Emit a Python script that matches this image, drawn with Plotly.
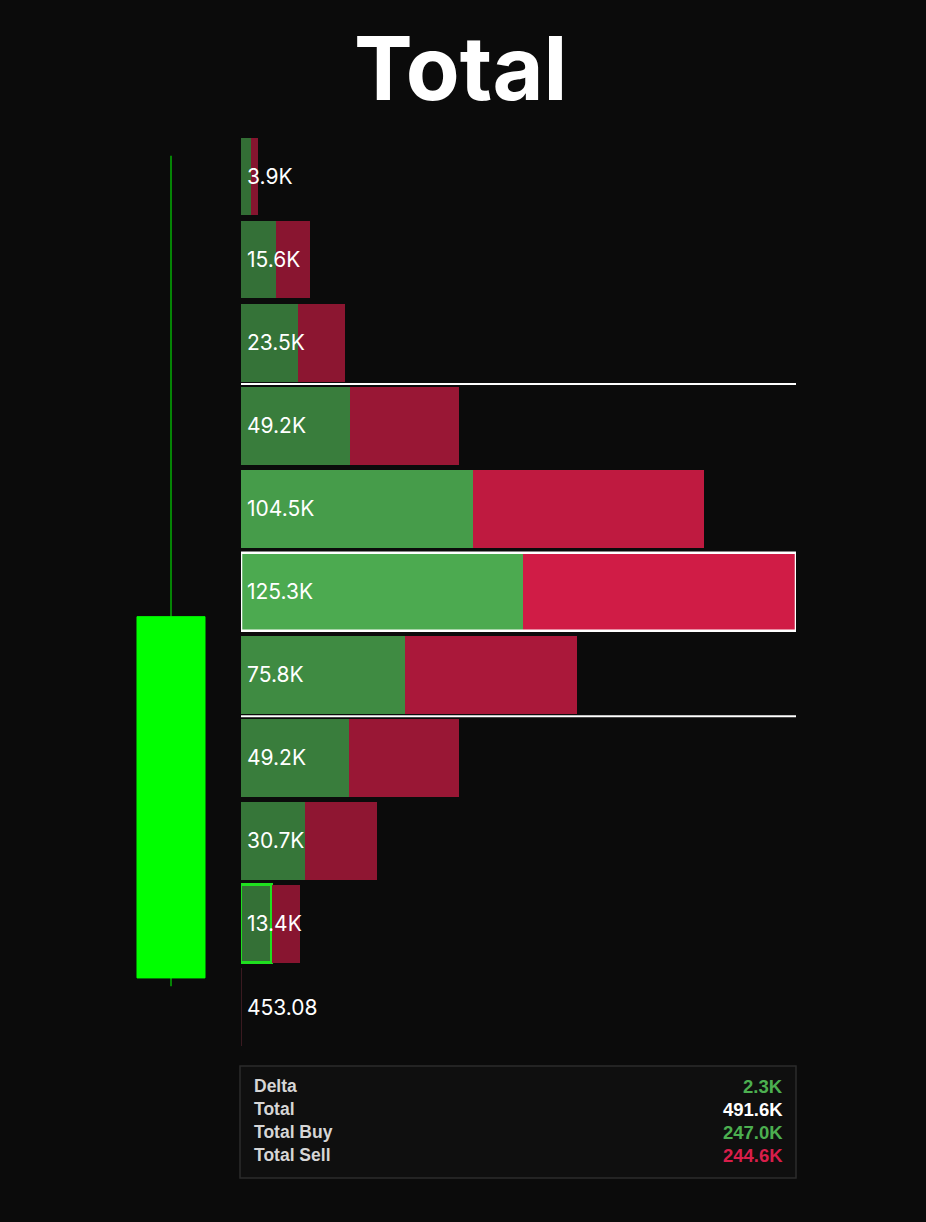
import plotly.graph_objects as go

# price levels (top to bottom), tick 0.02
prices = [453.28, 453.26, 453.24, 453.22, 453.20, 453.18, 453.16, 453.14, 453.12, 453.10, 453.08]
buy_k = [2.2, 8.0, 12.8, 24.7, 52.4, 63.6, 37.0, 24.4, 14.5, 7.0, 0.0]
sell_k = [1.7, 7.6, 10.7, 24.5, 52.1, 61.7, 38.8, 24.8, 16.2, 6.4, 0.15]
row_labels = ["3.9K", "15.6K", "23.5K", "49.2K", "104.5K", "125.3K", "75.8K",
              "49.2K", "30.7K", "13.4K", "453.08"]

# candle (price units)
candle_open = 453.087
candle_high = 453.285
candle_low = 453.085
candle_close = 453.174

poc_index = 5
va_high_index = 3
va_low_index = 6
imbalance_index = 9

summary_names = ["Delta", "Total", "Total Buy", "Total Sell"]
summary_values = ["2.3K", "491.6K", "247.0K", "244.6K"]
summary_colors = ["#4CAF50", "#FFFFFF", "#4CAF50", "#D81E4A"]

BG = "#0B0B0B"
W, H = 926, 1222
tick = 0.02
row_h = tick * 0.9375

totals = [b + s for b, s in zip(buy_k, sell_k)]
vmax = max(totals)


def shade(rgb, v):
    a = 0.62 + 0.38 * (v / vmax) ** 1.4
    bg = (11, 11, 11)
    return "rgb(%d,%d,%d)" % tuple(int(bg[i] + (rgb[i] - bg[i]) * a) for i in range(3))


buy_colors = [shade((76, 170, 80), t) for t in totals]
sell_colors = [shade((208, 28, 70), t) for t in totals]
sell_colors[-1] = "#3a1a20"

buy_line_c = ["#1FE01F" if i == imbalance_index else "rgba(0,0,0,0)" for i in range(len(prices))]
buy_line_w = [3.5 if i == imbalance_index else 0 for i in range(len(prices))]

fig = go.Figure()

fig.add_trace(go.Bar(
    y=prices, x=buy_k, orientation="h", width=row_h,
    marker=dict(color=buy_colors, line=dict(color=buy_line_c, width=buy_line_w)),
    hoverinfo="skip", showlegend=False,
))
fig.add_trace(go.Bar(
    y=prices, x=sell_k, orientation="h", width=row_h,
    marker=dict(color=sell_colors, line=dict(width=0)),
    hoverinfo="skip", showlegend=False,
))

for p, lab in zip(prices, row_labels):
    fig.add_annotation(x=0, y=p, xref="x", yref="y", text=lab, showarrow=False,
                       xanchor="left", yanchor="middle", xshift=4,
                       font=dict(family="Inter", size=21, color="#FFFFFF"))

fig.add_trace(go.Candlestick(
    x=[0], open=[candle_open], high=[candle_high], low=[candle_low], close=[candle_close],
    xaxis="x2", yaxis="y",
    increasing=dict(line=dict(color="#00FF00", width=1), fillcolor="#00FF00"),
    decreasing=dict(line=dict(color="#FF0000", width=1), fillcolor="#FF0000"),
    whiskerwidth=0, hoverinfo="skip", showlegend=False,
))

# POC outline
fig.add_shape(type="rect", xref="x", yref="y",
              x0=0, x1=totals[poc_index],
              y0=prices[poc_index] - row_h / 2, y1=prices[poc_index] + row_h / 2,
              line=dict(color="#FFFFFF", width=2.5), fillcolor="rgba(0,0,0,0)")

# value area lines
for i in (va_high_index, va_low_index):
    y_edge = prices[i] + tick / 2 if i == va_high_index else prices[i] - tick / 2
    fig.add_shape(type="line", xref="x", yref="y", x0=0, x1=vmax,
                  y0=y_edge, y1=y_edge, line=dict(color="#FFFFFF", width=2))

# summary box
fig.add_shape(type="rect", xref="paper", yref="paper",
              x0=240 / W, x1=796 / W, y0=1 - 1178 / H, y1=1 - 1066 / H,
              line=dict(color="#2C2C2C", width=1.5), fillcolor="#0F0F0F", layer="below")
for k, (name, val, col) in enumerate(zip(summary_names, summary_values, summary_colors)):
    yy = 1 - (1086 + 23 * k) / H
    fig.add_annotation(x=252 / W, y=yy, xref="paper", yref="paper", text="<b>%s</b>" % name,
                       showarrow=False, xanchor="left", yanchor="middle",
                       font=dict(family="Liberation Sans", size=17.5, color="#D6D6D6"))
    fig.add_annotation(x=785 / W, y=yy, xref="paper", yref="paper", text="<b>%s</b>" % val,
                       showarrow=False, xanchor="right", yanchor="middle",
                       font=dict(family="Liberation Sans", size=18.5, color=col))

fig.add_annotation(x=460 / W, y=1 - 68 / H, xref="paper", yref="paper", text="<b>Total</b>",
                   showarrow=False, xanchor="center", yanchor="middle",
                   font=dict(family="Inter", size=88, color="#FFFFFF"))

px_per_price = 83.05 / tick
y_top = prices[0] + 176.5 / px_per_price
y_bot = prices[0] - (H - 176.5) / px_per_price
cx = 138.8  # px per unit on the candle axis

fig.update_layout(
    width=W, height=H,
    margin=dict(l=0, r=0, t=0, b=0),
    paper_bgcolor=BG, plot_bgcolor=BG,
    barmode="stack", bargap=0,
    xaxis=dict(domain=[241 / W, 796 / W], range=[0, vmax], visible=False, fixedrange=True),
    xaxis2=dict(domain=[0, 241 / W], range=[-171 / cx, 70 / cx], visible=False,
                anchor="y", rangeslider=dict(visible=False)),
    yaxis=dict(domain=[0, 1], range=[y_bot, y_top], visible=False),
    showlegend=False,
)

fig.write_html("out.html", config={"displayModeBar": False},
               post_script="document.body.style.margin='0';document.body.style.background='%s';" % BG)
